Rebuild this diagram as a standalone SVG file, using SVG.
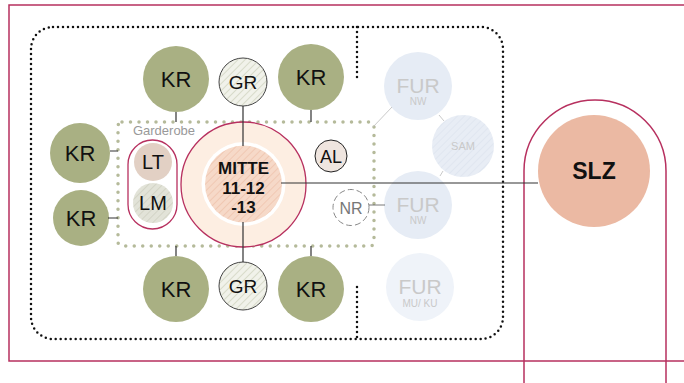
<svg xmlns="http://www.w3.org/2000/svg" width="684" height="383" viewBox="0 0 684 383">
<defs>
<pattern id="hGR" width="5" height="5" patternUnits="userSpaceOnUse" patternTransform="rotate(45)"><rect width="5" height="5" fill="#f1f2ea"/><line x1="0" y1="0" x2="0" y2="5" stroke="#d2d6c2" stroke-width="1.6"/></pattern>
<pattern id="hLM" width="5" height="5" patternUnits="userSpaceOnUse" patternTransform="rotate(45)"><rect width="5" height="5" fill="#e2e3d8"/><line x1="0" y1="0" x2="0" y2="5" stroke="#cfd1c2" stroke-width="1.6"/></pattern>
<pattern id="hMI" width="5" height="5" patternUnits="userSpaceOnUse" patternTransform="rotate(45)"><rect width="5" height="5" fill="#f6d9c8"/><line x1="0" y1="0" x2="0" y2="5" stroke="#efc4ae" stroke-width="1.6"/></pattern>
<pattern id="hSAM" width="5" height="5" patternUnits="userSpaceOnUse" patternTransform="rotate(45)"><rect width="5" height="5" fill="#e8edf5"/><line x1="0" y1="0" x2="0" y2="5" stroke="#dfe5ef" stroke-width="1.6"/></pattern>
</defs>
<style>
.t{font-family:"Liberation Sans",Arial,sans-serif;text-anchor:middle;}
.kr{fill:#a9b083;}
.krt{font-size:22px;fill:#111;}
.gr{fill:url(#hGR);stroke:#444;stroke-width:1;}
.grt{font-size:19px;fill:#111;}
.fur{fill:#e6ecf5;}
.furt{font-size:21px;fill:#c9c9c9;}
.furs{font-size:10px;fill:#c9c9c9;}
.ln{stroke:#333;stroke-width:1.2;fill:none;}
.lg{stroke:#bbb;stroke-width:0.8;fill:none;}
.red{stroke:#b7305f;fill:none;stroke-width:1.5;}
.mt{font-size:17px;font-weight:bold;fill:#111;}
</style>
<rect width="684" height="383" fill="#fff"/>
<!-- outer frame -->
<path class="red" d="M684 5 H9 V361 H684"/>
<!-- SLZ capsule -->
<path class="red" d="M524 383 V171 A71 71 0 0 1 666 171 V383"/>
<!-- dotted main area -->
<rect x="31" y="27" width="472" height="312" rx="22" fill="none" stroke="#111" stroke-width="2.5" stroke-dasharray="0 5" stroke-linecap="round"/>
<path d="M357 27 V79 M357 287 V339" fill="none" stroke="#111" stroke-width="2.5" stroke-dasharray="0 5" stroke-linecap="round"/>
<!-- garderobe dotted -->
<rect x="118" y="122" width="256" height="124" rx="4" fill="none" stroke="#b5ba9a" stroke-width="3.5" stroke-dasharray="0 8.5" stroke-linecap="round"/>
<g id="kr1"><circle class="kr" cx="176" cy="79" r="33"/><text class="t krt" x="176" y="87">KR</text></g>
<g id="kr2"><circle class="kr" cx="311" cy="77" r="33"/><text class="t krt" x="311" y="85">KR</text></g>
<g id="kr3"><circle class="kr" cx="80" cy="153" r="30"/><text class="t krt" x="80" y="161">KR</text></g>
<g id="kr4"><circle class="kr" cx="81" cy="218" r="28"/><text class="t krt" x="81" y="226">KR</text></g>
<g id="kr5"><circle class="kr" cx="176" cy="289" r="33"/><text class="t krt" x="176" y="297">KR</text></g>
<g id="kr6"><circle class="kr" cx="311" cy="289" r="33"/><text class="t krt" x="311" y="297">KR</text></g>
<g id="gr1"><circle class="gr" cx="243" cy="82" r="24"/><text class="t grt" x="243" y="89">GR</text></g>
<g id="gr2"><circle class="gr" cx="243" cy="286" r="24"/><text class="t grt" x="243" y="293">GR</text></g>
<g id="garderobe"><text class="t" x="164" y="135" font-size="13" fill="#999">Garderobe</text></g>
<g id="ltlm">
<rect x="128" y="140" width="49" height="89" rx="24.5" fill="#fff" stroke="#b7305f" stroke-width="1.3"/>
</g>
<g id="lt"><circle cx="153" cy="162" r="19" fill="#e2d0c4"/><text class="t" x="153" y="169" font-size="20" fill="#111">LT</text></g>
<g id="lm"><circle cx="153" cy="203" r="20" fill="url(#hLM)"/><text class="t" x="153" y="210" font-size="20" fill="#111">LM</text></g>
<g id="mitte">
<circle cx="243.5" cy="184.5" r="62.5" fill="#fdeee2" stroke="#b7305f" stroke-width="1.3"/>
<circle cx="243.5" cy="184" r="42" fill="#fff"/>
<circle cx="243.5" cy="184" r="38.5" fill="url(#hMI)"/>
</g>
<g id="al"><circle cx="331" cy="156" r="16" fill="#efe5df" stroke="#222" stroke-width="1"/><text class="t" x="331" y="163" font-size="18" fill="#111">AL</text></g>
<g id="nr"><circle cx="351" cy="207.5" r="18" fill="#fff" stroke="#888" stroke-width="1" stroke-dasharray="6 3"/><text class="t" x="351" y="213.5" font-size="16" fill="#777">NR</text></g>
<g id="fur1"><circle class="fur" cx="418" cy="86" r="34"/><text class="t furt" x="418" y="93">FUR</text><text class="t furs" x="418" y="105">NW</text></g>
<g id="sam"><circle cx="463" cy="146" r="31" fill="url(#hSAM)"/><text class="t" x="463" y="150" font-size="11" fill="#c9c9c9">SAM</text></g>
<g id="fur2"><circle class="fur" cx="418" cy="205" r="34"/><text class="t furt" x="418" y="212">FUR</text><text class="t furs" x="418" y="224">NW</text></g>
<g id="fur3"><circle cx="420" cy="287" r="34" fill="#eff3f9"/><text class="t furt" x="420" y="294">FUR</text><text class="t furs" x="420" y="307">MU/ KU</text></g>
<g id="slz"><circle cx="594" cy="171" r="56" fill="#ebb9a3"/><text class="t" x="594" y="179" font-size="23" font-weight="bold" fill="#111">SLZ</text></g>
<g id="connectors">
<path class="ln" d="M176 112 V122 M311 110 V122 M110 151 H118 M108 218 H118 M176 246 V256 M311 246 V256 M243 106 V146 M243 222 V262 M281 183 H538"/>
<path d="M369 205 H385" stroke="#555" stroke-width="0.8" fill="none"/>
<path class="lg" d="M392 107 L373 127 M439 115 L444 121 M443 171 L440 176"/>
</g>
<g id="mitte-label">
<text class="t mt" x="243.5" y="174">MITTE</text>
<text class="t mt" x="243.5" y="194">11-12</text>
<text class="t mt" x="243.5" y="213">-13</text>
</g>
</svg>
